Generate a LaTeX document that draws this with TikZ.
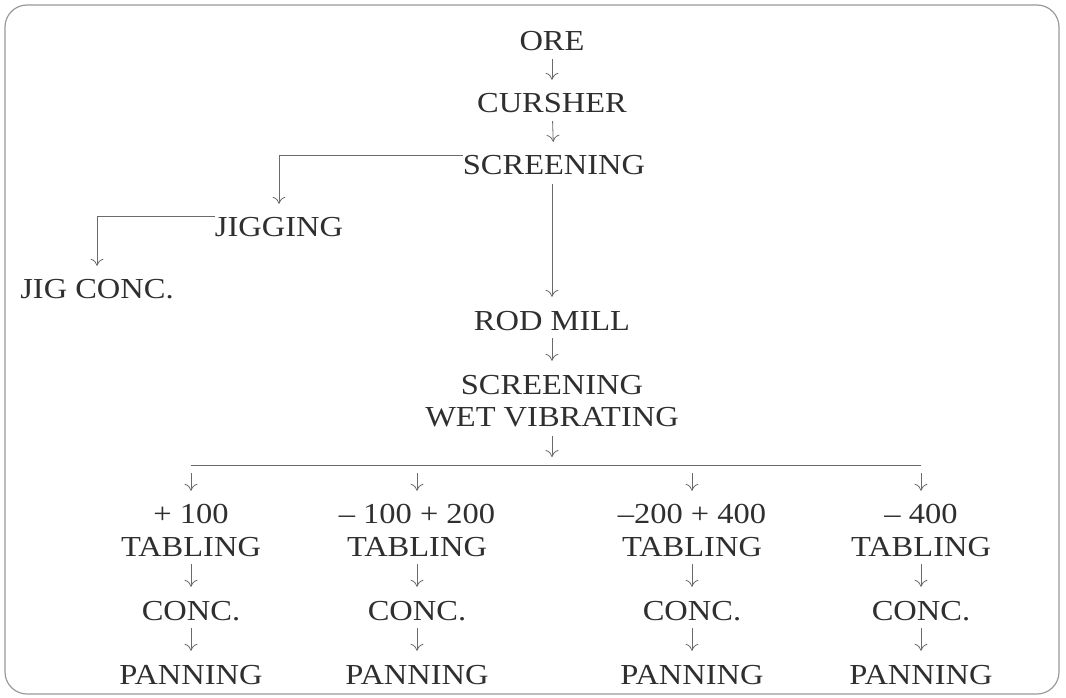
\documentclass[tikz,border=0pt]{standalone}
\usepackage{fontspec}
\setmainfont[FakeStretch=1.12]{Liberation Serif}
\usetikzlibrary{arrows.meta}
\definecolor{txt}{HTML}{2F2F2F}
\definecolor{ln}{HTML}{6A6A6A}
\definecolor{frame}{HTML}{9A9A9A}
\begin{document}
\begin{tikzpicture}[x=1pt,y=-1pt,
  lbl/.style={anchor=base,inner sep=0pt,text height=19pt,text depth=0pt,text=txt,
    font=\fontsize{29}{30}\selectfont},
  tip/.style={-{To[length=7pt,width=13pt]}},
  flow/.style={draw=ln,line width=0.8pt,tip,shorten <=8pt,shorten >=14pt},
  branch/.style={draw=ln,line width=0.8pt,tip,shorten >=13pt},
  bus/.style={draw=ln,line width=0.8pt}]
\useasboundingbox (0,0) rectangle (1066,698);
\draw[frame,line width=1.2pt,rounded corners=22pt] (5,5) rectangle (1059,694);
% main chain
\node[lbl] (ore) at (552,51) {ORE};
\node[lbl] (cur) at (552,113) {CURSHER};
\node[lbl] (scr) at (554,175) {SCREENING};
\node[lbl] (jig) at (279,236) {JIGGING};
\node[lbl] (jc) at (97,298) {JIG CONC.};
\node[lbl] (rod) at (552,330) {ROD MILL};
\node[lbl] (scr2) at (552,394) {SCREENING};
\node[lbl] (wet) at (552,426) {WET VIBRATING};
\coordinate (busc) at (552,465);
\draw[flow] (ore) -- (cur);
\draw[flow] (cur) -- (scr);
\draw[branch] (scr.north west) -| (jig.north);
\draw[branch] (jig.north west) -| (jc.north);
\draw[flow,shorten <=9pt] (scr.south -| rod.north) -- (rod.north);
\draw[flow] (rod) -- (scr2);
\draw[flow,shorten >=8pt,shorten <=10pt] (wet.south) -- (busc);
% columns
\foreach \i/\x/\t in {1/191/{+ 100},2/417/{– 100 + 200},3/692/{–200 + 400},4/921/{– 400}}{
  \coordinate (b\i) at (\x,465);
  \node[lbl] (s\i) at (\x,523) {\t};
  \node[lbl] (t\i) at (\x,556) {TABLING};
  \node[lbl] (c\i) at (\x,620) {CONC.};
  \node[lbl] (p\i) at (\x,684) {PANNING};
  \draw[branch,shorten <=8pt] (b\i) -- (s\i.north);
  \draw[flow] (t\i) -- (c\i);
  \draw[flow] (c\i) -- (p\i);
}
\draw[bus] (b1) -- (b4);
\end{tikzpicture}
\end{document}
